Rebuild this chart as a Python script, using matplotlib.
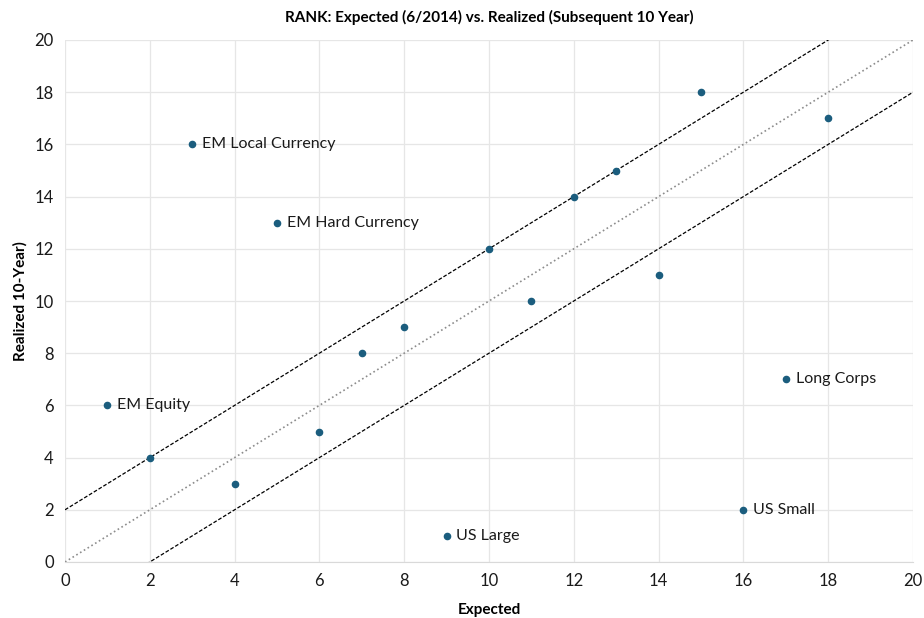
import numpy as np
import matplotlib.pyplot as plt

plt.rcParams['font.family'] = ['Lato', 'DejaVu Sans']

expected = [1, 2, 3, 4, 5, 6, 7, 8, 9, 10, 11, 12, 13, 14, 15, 16, 17, 18]
realized = [6, 4, 16, 3, 13, 5, 8, 9, 1, 12, 10, 14, 15, 11, 18, 2, 7, 17]
labels = {1: 'EM Equity', 3: 'EM Local Currency', 5: 'EM Hard Currency',
          9: 'US Large', 16: 'US Small', 17: 'Long Corps'}
band = 2

fig = plt.figure(figsize=(9.24, 6.18), dpi=100)
ax = fig.add_axes([65 / 924, 1 - 562 / 618, 848 / 924, 522 / 618])

line_x = np.array([0, 20])
ax.plot(line_x, line_x, ':', color='#8c8c8c', lw=1.2, zorder=2)
ax.plot(line_x, line_x + band, '--', color='black', lw=0.9, dashes=(3, 1.5), zorder=2)
ax.plot(line_x, line_x - band, '--', color='black', lw=0.9, dashes=(3, 1.5), zorder=2)

ax.scatter(expected, realized, s=20, color='#1b5d7e', zorder=3)
for x, y in zip(expected, realized):
    if x in labels:
        ax.annotate(labels[x], (x, y), xytext=(7, 0), textcoords='offset points',
                    va='center', ha='left', fontsize=11.5, color='#1a1a1a')

ax.set_xlim(0, 20)
ax.set_ylim(0, 20)
ax.set_xticks(range(0, 21, 2))
ax.set_yticks(range(0, 21, 2))
ax.grid(True, color='#e6e6e6', lw=0.9, zorder=0)
ax.set_axisbelow(True)
for side in ['top', 'right', 'left']:
    ax.spines[side].set_visible(False)
ax.spines['bottom'].set_color('#d9d9d9')
ax.tick_params(length=0, labelsize=12, pad=8, colors='#1a1a1a')

ax.set_xlabel('Expected', fontsize=11, fontweight='bold', labelpad=10)
ax.set_ylabel('Realized 10-Year)', fontsize=11, fontweight='bold', labelpad=5)
ax.set_title('RANK: Expected (6/2014) vs. Realized (Subsequent 10 Year)',
             fontsize=11, fontweight='bold', pad=13)

fig.savefig('out.png', dpi=100)
